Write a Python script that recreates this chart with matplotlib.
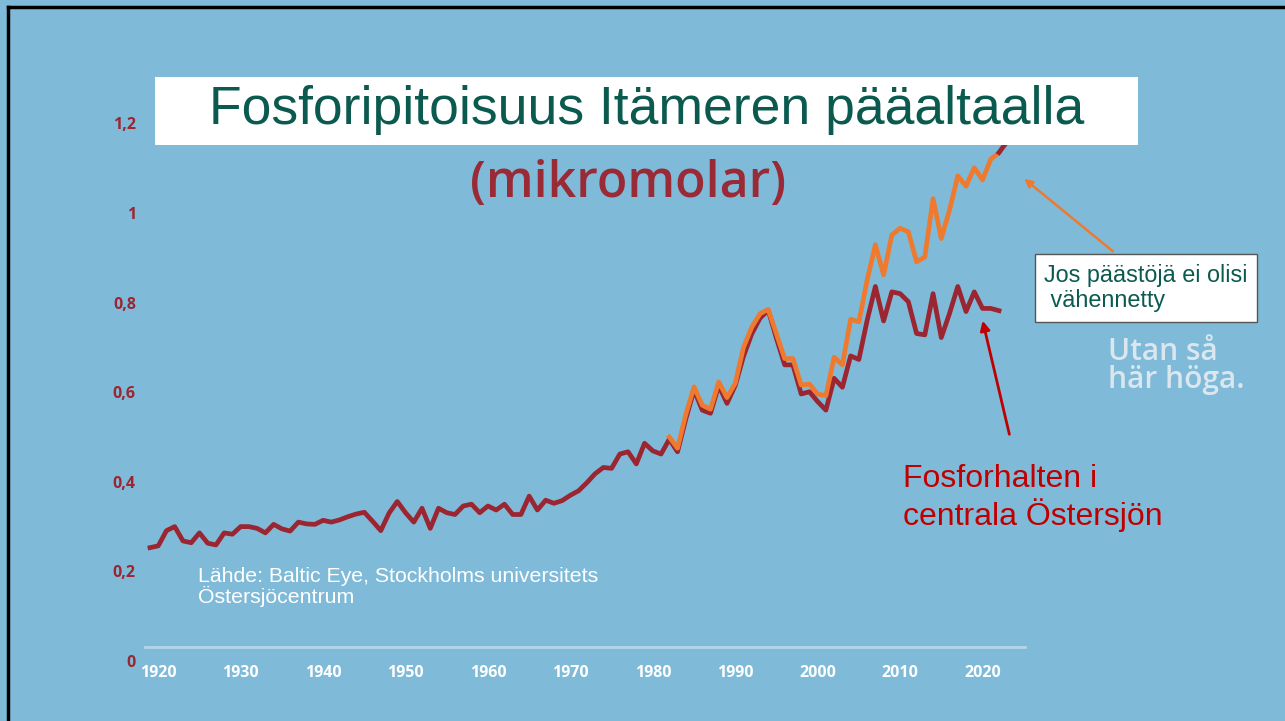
import matplotlib
matplotlib.use("Agg")
import matplotlib.pyplot as plt
from matplotlib.patches import Rectangle

# --- data ---
years_central = list(range(1919, 2023))
p_central = [
    0.253, 0.257, 0.291, 0.300, 0.268, 0.264, 0.286, 0.263, 0.259, 0.286,
    0.283, 0.300, 0.300, 0.296, 0.286, 0.305, 0.295, 0.290, 0.310, 0.306,
    0.305, 0.314, 0.310, 0.315, 0.322, 0.328, 0.332, 0.312, 0.291, 0.330,
    0.356, 0.331, 0.310, 0.341, 0.296, 0.341, 0.331, 0.327, 0.346, 0.350,
    0.331, 0.346, 0.337, 0.350, 0.327, 0.327, 0.368, 0.337, 0.359, 0.352,
    0.358, 0.370, 0.380, 0.398, 0.418, 0.432, 0.430, 0.462, 0.467, 0.440,
    0.486, 0.469, 0.462, 0.495, 0.467, 0.540, 0.605, 0.560, 0.553, 0.615,
    0.575, 0.615, 0.680, 0.730, 0.765, 0.783, 0.720, 0.661, 0.661, 0.596,
    0.601, 0.579, 0.560, 0.631, 0.611, 0.681, 0.673, 0.760, 0.836, 0.759,
    0.824, 0.820, 0.802, 0.731, 0.728, 0.820, 0.722, 0.776, 0.836, 0.780,
    0.824, 0.787, 0.787, 0.782,
]

years_noreduction = list(range(1982, 2023))
p_noreduction = [
    0.500, 0.475, 0.550, 0.612, 0.571, 0.562, 0.623, 0.588, 0.620, 0.700,
    0.745, 0.775, 0.785, 0.730, 0.675, 0.675, 0.616, 0.618, 0.596, 0.592,
    0.678, 0.661, 0.763, 0.757, 0.850, 0.929, 0.862, 0.951, 0.966, 0.958,
    0.891, 0.902, 1.032, 0.943, 1.007, 1.083, 1.060, 1.101, 1.074, 1.120,
    1.135,
]
years_tail = [2022, 2023]
p_tail = [1.135, 1.160]

y_ticks = [0, 0.2, 0.4, 0.6, 0.8, 1.0, 1.2]
y_ticklabels = ["0", "0,2", "0,4", "0,6", "0,8", "1", "1,2"]
x_ticks = [1920, 1930, 1940, 1950, 1960, 1970, 1980, 1990, 2000, 2010, 2020]

BG = "#7fbbd9"
DARK = "#9b2530"
ORANGE = "#ee7a2f"
TEAL = "#0b5a4f"
W, H = 1285, 721


def fx(x):
    return x / W


def fy(y):
    return 1 - y / H


fig = plt.figure(figsize=(12.85, 7.21), dpi=100, facecolor=BG)

# plot area: 1919 -> px 150, 2022 -> px 999 ; y 0 -> px 661, 1.2 -> px 123.4
ppy = (999 - 150) / 103
ax = fig.add_axes([fx(140), fy(661), fx(1030) - fx(140), (661 - 123.4) / H])
ax.set_facecolor("none")
ax.set_xlim(1919 - 10 / ppy, 1919 + 880 / ppy)
ax.set_ylim(0, 1.2)
for s in ax.spines.values():
    s.set_visible(False)

ax.axhline(0.031, xmin=0.006, xmax=0.994, color="white", alpha=0.4, lw=2)

ax.plot(years_central, p_central, color=DARK, lw=3.4, zorder=3)
ax.plot(years_noreduction, p_noreduction, color=ORANGE, lw=3.4, zorder=4)
ax.plot(years_tail, p_tail, color=DARK, lw=3.4, zorder=4, clip_on=False)

ax.set_yticks(y_ticks)
ax.set_yticklabels(y_ticklabels, family="Open Sans", fontweight="bold",
                   fontsize=11.5, color=DARK)
ax.set_xticks(x_ticks)
ax.set_xticklabels([str(v) for v in x_ticks], family="Open Sans",
                   fontweight="bold", fontsize=11.5, color="white")
ax.tick_params(axis="both", length=0)
ax.tick_params(axis="y", pad=3)
ax.tick_params(axis="x", pad=3)

# frame lines (top and left)
fig.add_artist(plt.Line2D([fx(8), fx(W)], [fy(7), fy(7)], color="black", lw=2.5))
fig.add_artist(plt.Line2D([fx(8), fx(8)], [fy(7), fy(H)], color="black", lw=2.5))

# title box
fig.add_artist(Rectangle((fx(155), fy(145)), fx(1138) - fx(155), (145 - 77) / H,
                         facecolor="white", edgecolor="none", zorder=10))
fig.text(fx(647), fy(110), "Fosforipitoisuus Itämeren pääaltaalla",
         family="Liberation Sans", fontsize=38.5, color=TEAL,
         ha="center", va="center", zorder=11)

fig.text(fx(628), fy(184), "(mikromolar)", family="Open Sans", fontsize=36,
         fontweight="semibold", color="#9a2a35", ha="center", va="center")

# annotation box
fig.text(fx(1044), fy(288), "Jos päästöjä ei olisi\n vähennetty",
         family="Liberation Sans", fontsize=16.8, color=TEAL, ha="left", va="center",
         linespacing=1.15,
         bbox=dict(boxstyle="square,pad=0.4", facecolor="white", edgecolor="#555555", lw=1))

fig.text(fx(1108), fy(366), "Utan så\nhär höga.", family="Open Sans", fontsize=21.5,
         fontweight="semibold", color="#dbe6ee", ha="left", va="center",
         linespacing=0.95)

fig.text(fx(903), fy(498), "Fosforhalten i\ncentrala Östersjön", family="Liberation Sans",
         fontsize=23, color="#c00000", ha="left", va="center", linespacing=1.12)

fig.text(fx(198), fy(587), "Lähde: Baltic Eye, Stockholms universitets\nÖstersjöcentrum",
         family="Liberation Sans", fontsize=15.3, color="white", ha="left", va="center",
         linespacing=0.95)

# arrows
ax.annotate("", xy=(fx(1022), fy(177)), xycoords="figure fraction",
            xytext=(fx(1115), fy(253)), textcoords="figure fraction",
            arrowprops=dict(arrowstyle="-|>", color=ORANGE, lw=1.8, mutation_scale=12))
ax.annotate("", xy=(fx(982), fy(318)), xycoords="figure fraction",
            xytext=(fx(1010), fy(437)), textcoords="figure fraction",
            arrowprops=dict(arrowstyle="-|>", color="#c00000", lw=2, mutation_scale=14))

fig.savefig("out.png", dpi=100, facecolor=BG)
